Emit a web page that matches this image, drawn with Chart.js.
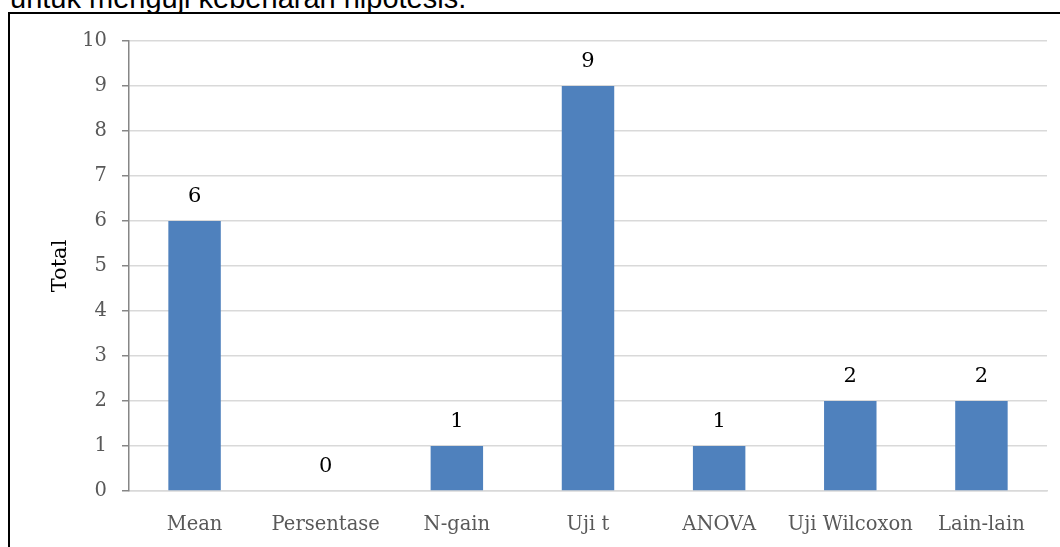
<!DOCTYPE html>
<html>
<head>
<meta charset="utf-8">
<script src="https://cdn.jsdelivr.net/npm/chart.js@4.4.1/dist/chart.umd.min.js"></script>
<style>
  html, body { margin: 0; padding: 0; background: #fff; overflow: hidden; }
  body { width: 1060px; height: 547px; position: relative; }
  #caption {
    position: absolute; left: 10px; top: -16.5px;
    font: 29px/29px "Liberation Sans", Arial, sans-serif; color: #000;
    white-space: nowrap;
  }
  #frame {
    position: absolute; left: 8px; top: 12px; width: 1100px; height: 600px;
    border: 2px solid #000; box-sizing: border-box;
  }
  #wrap { position: absolute; left: 0; top: 0; width: 1060px; height: 547px; }
</style>
</head>
<body>
<div id="caption">untuk menguji kebenaran hipotesis.</div>
<div id="frame"></div>
<div id="wrap"><canvas id="chart" width="1060" height="547"></canvas></div>
<script>
// Analysis techniques and how many studies used each
const categories = ["Mean", "Persentase", "N-gain", "Uji t", "ANOVA", "Uji Wilcoxon", "Lain-lain"];
const totals = [6, 0, 1, 9, 1, 2, 2];
const yTicks = [0, 1, 2, 3, 4, 5, 6, 7, 8, 9, 10];

const SERIF = "'DejaVu Serif', 'Liberation Serif', serif";

// Writes each bar's value just above it
const valueLabels = {
  id: "valueLabels",
  afterDatasetsDraw(chart) {
    const ctx = chart.ctx;
    const meta = chart.getDatasetMeta(0);
    ctx.save();
    ctx.font = "21px " + SERIF;
    ctx.fillStyle = "#000";
    ctx.textAlign = "center";
    ctx.textBaseline = "middle";
    meta.data.forEach((bar, i) => {
      ctx.fillText(String(totals[i]), bar.x, bar.y - 24);
    });
    ctx.restore();
  }
};

new Chart(document.getElementById("chart"), {
  type: "bar",
  data: {
    labels: categories,
    datasets: [{
      label: "Total",
      data: totals,
      backgroundColor: "#4f81bd",
      borderWidth: 0,
      categoryPercentage: 1.0,
      barPercentage: 0.4
    }]
  },
  options: {
    responsive: false,
    animation: false,
    layout: { padding: { top: 41, right: 13, bottom: 0, left: 0 } },
    plugins: {
      legend: { display: false },
      tooltip: { enabled: false }
    },
    scales: {
      x: {
        grid: { display: false, drawTicks: false },
        border: { display: true, color: "#d9d9d9", width: 1.5 },
        ticks: {
          color: "#595959",
          font: { family: SERIF, size: 19.5 },
          padding: 22,
          maxRotation: 0,
          autoSkip: false
        },
        afterFit(scale) { scale.height = 56; }
      },
      y: {
        min: 0,
        max: 10,
        afterBuildTicks(scale) { scale.ticks = yTicks.map(v => ({ value: v })); },
        grid: { color: "#d9d9d9", lineWidth: 1.5, tickLength: 7, tickColor: "#868686" },
        border: { display: true, color: "#868686", width: 1.5 },
        ticks: {
          color: "#595959",
          font: { family: SERIF, size: 19.5 },
          padding: 15
        },
        title: {
          display: true,
          text: "Total",
          color: "#000",
          font: { family: SERIF, size: 21 },
          padding: { top: 48, bottom: 0 }
        },
        afterFit(scale) { scale.width = 129; }
      }
    }
  },
  plugins: [valueLabels]
});
</script>
</body>
</html>
